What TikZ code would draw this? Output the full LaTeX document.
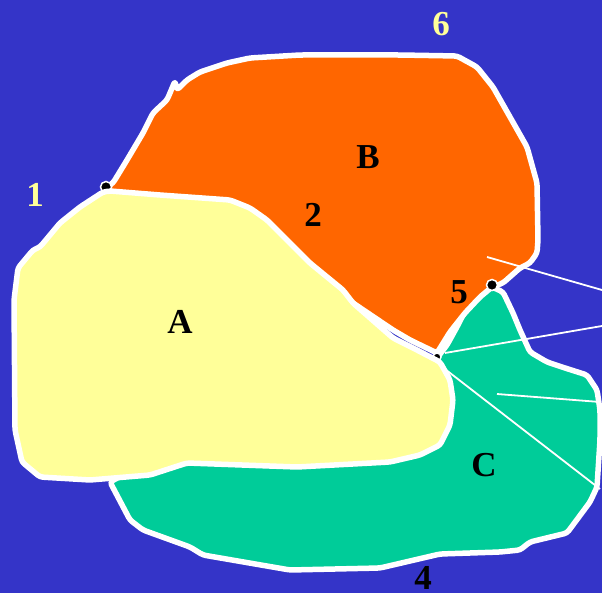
\documentclass[tikz,border=0pt]{standalone}
\usepackage{fontspec}
\setmainfont{Liberation Serif}
\usepackage{xcolor}
\usepackage{tikz}
\usetikzlibrary{arrows.meta,positioning,calc}
\definecolor{bgblue}{HTML}{3434C8}
\definecolor{regorange}{HTML}{FF6600}
\definecolor{regyellow}{HTML}{FFFF99}
\definecolor{reggreen}{HTML}{00CC99}
\tikzset{
  region/.style={draw=white, line width=5.5pt, line join=round, rounded corners=3pt},
  vertexdot/.style={circle, fill=black, draw=white, line width=1.5pt, minimum size=11pt, inner sep=0pt},
  pointer/.style={draw=white, line width=1.8pt},
  numlabel/.style={font=\bfseries\fontsize{35}{40}\selectfont, inner sep=0pt},
  ylabel/.style={numlabel, text=regyellow}
}

\begin{document}
\begin{tikzpicture}[x=1pt, y=-1pt]
\useasboundingbox (0,0) rectangle (602,593);
\fill[bgblue] (0,0) rectangle (602,593);
% region C
\filldraw[region, fill=reggreen] (437,358) -- (447,345) -- (458,325) -- (468,305) -- (480,292) -- (492,287)
  -- (503,292) -- (513,313) -- (520,330) -- (530,352) -- (547,362) -- (565,368) -- (587,375) -- (597,390)
  -- (600,410) -- (600,440) -- (597,487) -- (590,502) -- (567,533) -- (530,542) -- (520,550) -- (500,552)
  -- (440,554) -- (380,568) -- (290,570) -- (203,555) -- (190,547) -- (143,530) -- (130,520) -- (110,482)
  -- (150,460) -- (420,430) -- (435,370) -- cycle;
% region B
\filldraw[region, fill=regorange] (107,187) -- (113,183) -- (127,160) -- (143,133) -- (153,113) -- (167,100)
  -- (170,93) -- (175,81) -- (177,90) -- (187,80) -- (200,72) -- (227,63) -- (250,58) -- (300,55) -- (400,55)
  -- (457,56) -- (477,67) -- (493,87) -- (510,117) -- (527,147) -- (537,183) -- (538,240) -- (537,253)
  -- (530,263) -- (520,268) -- (503,283) -- (492,287) -- (480,297) -- (465,313) -- (450,332) -- (437,353)
  -- (410,340) -- (393,330) -- (353,303) -- (343,297) -- (300,258) -- (265,226) -- (230,208) -- (150,200)
  -- (110,196) -- cycle;
\node[vertexdot] (v1) at (106,187) {};
\node[vertexdot, minimum size=8pt] (vj) at (437,357) {};
% region A
\filldraw[region, fill=regyellow] (103,192) -- (110,191) -- (160,195) -- (230,200) -- (250,208) -- (267,220)
  -- (277,230) -- (297,250) -- (310,263) -- (343,290) -- (353,303) -- (393,338) -- (415,349) -- (440,362)
  -- (450,380) -- (453,400) -- (450,425) -- (440,445) -- (420,455) -- (390,462) -- (297,467) -- (187,463)
  -- (150,475) -- (90,480) -- (40,477) -- (22,462) -- (15,430) -- (14,300) -- (18,268) -- (33,250)
  -- (40,247) -- (60,223) -- (80,207) -- cycle;
\node[vertexdot] (v5) at (492,285) {};
% pointers from the right
\coordinate (p1) at (487,257);
\coordinate (p2) at (445,353);
\coordinate (p3) at (497,394);
\coordinate (p4) at (441,366);
\draw[pointer] (p1) -- (602,290);
\draw[pointer] (p2) -- (602,326);
\draw[pointer] (p3) -- (600,402);
\draw[pointer] (p4) -- (600,489);
% labels
\node[ylabel] (l1) at (35,195) {1};
\node[ylabel] (l6) at (441,24) {6};
\node[numlabel] (l2) at (313,215) {2};
\node[numlabel] (l5) at (459,292) {5};
\node[numlabel] (l4) at (423,578) {4};
\node[numlabel] (lA) at (180,322) {A};
\node[numlabel] (lB) at (368,157) {B};
\node[numlabel] (lC) at (484,465) {C};
\end{tikzpicture}
\end{document}
